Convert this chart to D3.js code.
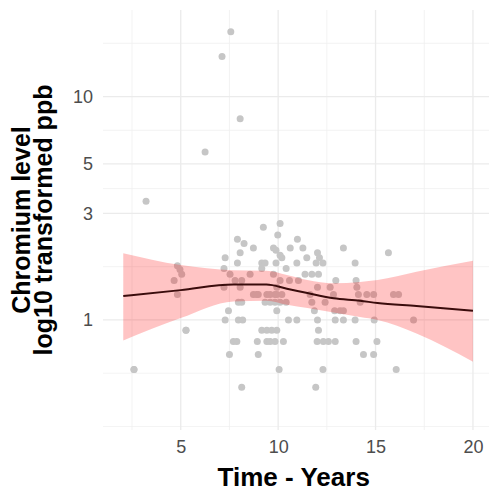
<!DOCTYPE html>
<html>
<head>
<meta charset="utf-8">
<script src="https://cdn.jsdelivr.net/npm/d3@7"></script>
<style>
  body { margin: 0; background: #fff; }
  svg { display: block; font-family: "Liberation Sans", Arial, sans-serif; }
</style>
</head>
<body>
<script>
// observations (time in years, chromium ppb)
const timeYears = [
  2.6, 3.22, 4.66, 4.83, 4.96, 5.05, 4.83, 5.27,
  6.25, 7.12, 7.57, 8.05,
  7.22, 7.28, 7.53, 7.79, 8.13, 7.22, 8.05, 8.73, 8.9, 8.98, 9.42, 9.59, 9.84, 9.93, 10.19,
  7.96, 8.13, 9.33, 9.59, 9.84, 10.1, 10.41, 11.73, 12.41, 14.21,
  7.45, 9.93, 11.86, 12.9, 13.18, 13.35,
  7.28, 7.96, 8.18, 10.53, 10.96, 12.02, 12.93, 13.35, 13.95, 14.93, 16.95,
  5.27, 9.16, 9.42, 9.67, 9.93, 12.07,
  7.7, 7.88, 8.93, 9.42, 9.59, 9.84, 10.27, 12.0, 12.32, 12.58, 12.93, 14.0, 15.07,
  7.5, 8.98, 14.38, 14.9,
  2.6, 10.05, 12.3, 16.06,
  8.13, 11.93,
  9.24, 10.1, 9.98, 7.91, 8.25, 8.73, 10.99, 10.62, 11.27, 9.76, 9.89, 10.1,
  8.05, 9.16, 9.33, 9.89, 10.19, 10.96, 11.47, 12.02, 12.12, 11.95, 12.3, 13.35, 15.66, 13.95,
  7.91, 9.16, 10.41, 8.56, 9.76, 11.38, 11.73, 12.07, 10.1, 10.58, 11.04, 12.96, 14.0,
  9.93, 12.02, 12.67, 12.84, 14.04, 11.64, 14.12, 14.55, 14.9, 15.92, 16.18
];
const chromium = [
  0.6, 3.4, 1.5, 1.75, 1.68, 1.6, 1.3, 0.9,
  5.65, 15.1, 19.5, 7.95,
  1.7, 1.9, 1.6, 1.5, 1.5, 1.4, 1.4, 1.3, 1.3, 1.3, 1.3, 1.3, 1.3, 1.3, 1.3,
  1.2, 1.2, 1.2, 1.2, 1.2, 1.2, 1.2, 1.2, 1.2, 1.2,
  1.1, 1.1, 1.1, 1.1, 1.1, 1.1,
  1.0, 1.0, 1.0, 1.0, 1.0, 1.0, 1.0, 1.0, 1.0, 1.0, 1.0,
  0.9, 0.9, 0.9, 0.9, 0.9, 0.9,
  0.8, 0.8, 0.8, 0.8, 0.8, 0.8, 0.8, 0.8, 0.8, 0.8, 0.8, 0.8, 0.8,
  0.7, 0.7, 0.7, 0.7,
  0.6, 0.6, 0.6, 0.6,
  0.5, 0.5,
  2.6, 2.7, 2.4, 2.3, 2.2, 2.1, 2.3, 2.1, 2.1, 2.1, 2.05, 1.95,
  2.0, 1.8, 1.8, 1.8, 1.9, 1.8, 1.9, 2.0, 1.9, 1.8, 1.8, 2.1, 2.0, 1.8,
  1.8, 1.7, 1.7, 1.6, 1.6, 1.6, 1.6, 1.6, 1.5, 1.5, 1.5, 1.5, 1.5,
  1.4, 1.4, 1.4, 1.3, 1.4, 1.3, 1.3, 1.3, 1.3, 1.3, 1.3
];

// smoother (fit and confidence band)
const smoothX  = [2.05, 5, 7.7, 9.4, 10.45, 11.5, 12.85, 14.2, 15.1, 17.1, 20];
const smoothFit = [1.28, 1.36, 1.44, 1.44, 1.38, 1.32, 1.25, 1.22, 1.19, 1.155, 1.10];
const smoothLo = [0.81, 1.02, 1.21, 1.22, 1.17, 1.13, 1.08, 1.03, 1.0, 0.87, 0.65];
const smoothHi = [1.99, 1.76, 1.67, 1.66, 1.59, 1.51, 1.46, 1.48, 1.51, 1.645, 1.84];

const xBreaks = [5, 10, 15, 20];
const xMinor = [2.5, 7.5, 12.5, 17.5];
const yBreaks = [1, 3, 5, 10];
// minor breaks are midpoints in log10 space
const yMinorLog = [-0.477, -0.2385, 0.2385, 0.588, 0.849, 1.2385];

const xLimits = [1.01, 20.9];
const yLimits = [0.3217, 24.4];

const W = 489, H = 491;
const margin = { top: 10, right: -1.5, bottom: 61, left: 103 };

const svg = d3.select("body").append("svg")
    .attr("width", W)
    .attr("height", H);

const x = d3.scaleLinear()
    .domain(xLimits)
    .range([margin.left, W - margin.right]);

const y = d3.scaleLog()
    .domain(yLimits)
    .range([H - margin.bottom, margin.top]);

const grid = svg.append("g");

// minor grid
grid.selectAll("line.ymin")
  .data(yMinorLog)
  .join("line")
    .attr("x1", x.range()[0]).attr("x2", x.range()[1])
    .attr("y1", d => y(Math.pow(10, d))).attr("y2", d => y(Math.pow(10, d)))
    .attr("stroke", "#f0f0f0").attr("stroke-width", 0.8);
grid.selectAll("line.xmin")
  .data(xMinor)
  .join("line")
    .attr("y1", y.range()[0]).attr("y2", y.range()[1])
    .attr("x1", d => x(d)).attr("x2", d => x(d))
    .attr("stroke", "#f0f0f0").attr("stroke-width", 0.8);

// major grid
grid.append("g").selectAll("line")
  .data(yBreaks)
  .join("line")
    .attr("x1", x.range()[0]).attr("x2", x.range()[1])
    .attr("y1", d => y(d)).attr("y2", d => y(d))
    .attr("stroke", "#ebebeb").attr("stroke-width", 1.3);
grid.append("g").selectAll("line")
  .data(xBreaks)
  .join("line")
    .attr("y1", y.range()[0]).attr("y2", y.range()[1])
    .attr("x1", d => x(d)).attr("x2", d => x(d))
    .attr("stroke", "#ebebeb").attr("stroke-width", 1.3);

// points
svg.append("g")
    .attr("fill", "#c6c6c6")
  .selectAll("circle")
  .data(d3.range(timeYears.length))
  .join("circle")
    .attr("cx", i => x(timeYears[i]))
    .attr("cy", i => y(chromium[i]))
    .attr("r", 3.5);

// confidence band
const band = d3.area()
    .x(i => x(smoothX[i]))
    .y0(i => y(smoothLo[i]))
    .y1(i => y(smoothHi[i]))
    .curve(d3.curveMonotoneX);

svg.append("path")
    .datum(d3.range(smoothX.length))
    .attr("d", band)
    .attr("fill", "#ff0000")
    .attr("fill-opacity", 0.23);

const fitLine = d3.line()
    .x(i => x(smoothX[i]))
    .y(i => y(smoothFit[i]))
    .curve(d3.curveMonotoneX);

svg.append("path")
    .datum(d3.range(smoothX.length))
    .attr("d", fitLine)
    .attr("fill", "none")
    .attr("stroke", "#3a0c0c")
    .attr("stroke-width", 2);

// axes (ticks only, no lines)
const xAxis = svg.append("g")
    .attr("transform", `translate(0,${y.range()[0]})`)
    .call(d3.axisBottom(x).tickValues(xBreaks).tickSize(0).tickPadding(10));
const yAxis = svg.append("g")
    .attr("transform", `translate(${margin.left},0)`)
    .call(d3.axisLeft(y).tickValues(yBreaks).tickFormat(d3.format("d")).tickSize(0).tickPadding(10));

[xAxis, yAxis].forEach(g => {
  g.select(".domain").remove();
  g.selectAll("text")
    .attr("fill", "#4d4d4d")
    .attr("font-size", 18)
    .attr("font-family", "Liberation Sans, Arial, sans-serif");
});

// titles
svg.append("text")
    .attr("x", (x.range()[0] + x.range()[1]) / 2 - 3)
    .attr("y", 486)
    .attr("text-anchor", "middle")
    .attr("font-weight", "bold")
    .attr("font-size", 26)
    .attr("fill", "#000")
    .text("Time - Years");

const yTitle = svg.append("text")
    .attr("transform", `translate(0,${(y.range()[0] + y.range()[1]) / 2}) rotate(-90)`)
    .attr("text-anchor", "middle")
    .attr("font-weight", "bold")
    .attr("font-size", 25)
    .attr("fill", "#000");
yTitle.append("tspan").attr("x", 0).attr("y", 30).text("Chromium level");
yTitle.append("tspan").attr("x", 0).attr("y", 52).text("log10 transformed ppb");
</script>
</body>
</html>
